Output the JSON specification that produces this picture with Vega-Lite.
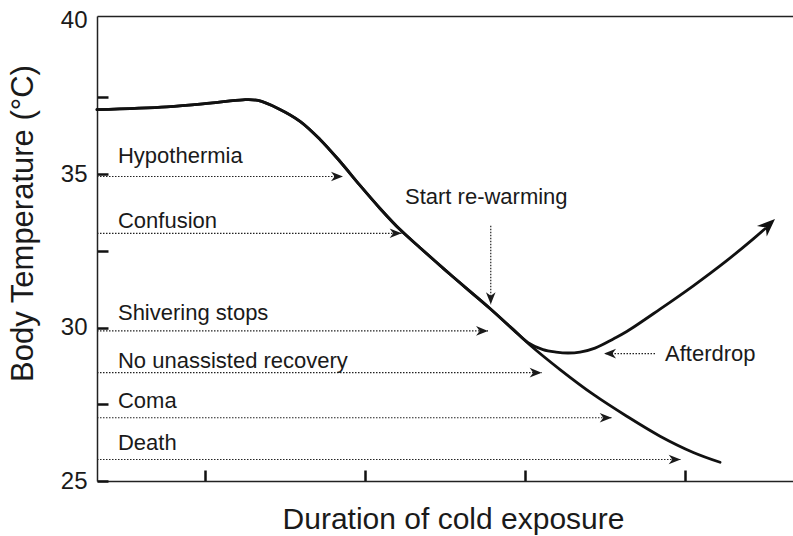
{
  "$schema": "https://vega.github.io/schema/vega-lite/v6.json",
  "width": 696,
  "height": 465,
  "autosize": {"type": "none"},
  "padding": {"left": 97, "top": 16, "right": 0, "bottom": 55},
  "config": {"view": {"stroke": null}, "font": "Liberation Sans"},
  "datasets": {
    "curve": [
      {"x": -0.675, "y": 37.10, "branch": "untreated"},
      {"x": -0.239, "y": 37.19, "branch": "untreated"},
      {"x": 0.031, "y": 37.31, "branch": "untreated"},
      {"x": 0.2375, "y": 37.42, "branch": "untreated"},
      {"x": 0.331, "y": 37.40, "branch": "untreated"},
      {"x": 0.456, "y": 37.14, "branch": "untreated"},
      {"x": 0.594, "y": 36.72, "branch": "untreated"},
      {"x": 0.719, "y": 36.13, "branch": "untreated"},
      {"x": 0.844, "y": 35.41, "branch": "untreated"},
      {"x": 0.969, "y": 34.63, "branch": "untreated"},
      {"x": 1.094, "y": 33.88, "branch": "untreated"},
      {"x": 1.219, "y": 33.19, "branch": "untreated"},
      {"x": 1.344, "y": 32.60, "branch": "untreated"},
      {"x": 1.5, "y": 31.88, "branch": "untreated"},
      {"x": 1.656, "y": 31.18, "branch": "untreated"},
      {"x": 1.781, "y": 30.62, "branch": "untreated"},
      {"x": 1.925, "y": 29.94, "branch": "untreated"},
      {"x": 2.031, "y": 29.43, "branch": "untreated"},
      {"x": 2.219, "y": 28.63, "branch": "untreated"},
      {"x": 2.427, "y": 27.82, "branch": "untreated"},
      {"x": 2.636, "y": 27.11, "branch": "untreated"},
      {"x": 2.844, "y": 26.46, "branch": "untreated"},
      {"x": 3.052, "y": 25.93, "branch": "untreated"},
      {"x": 3.219, "y": 25.61, "branch": "untreated"},
      {"x": -0.675, "y": 37.10, "branch": "rewarmed"},
      {"x": -0.239, "y": 37.19, "branch": "rewarmed"},
      {"x": 0.031, "y": 37.31, "branch": "rewarmed"},
      {"x": 0.2375, "y": 37.42, "branch": "rewarmed"},
      {"x": 0.331, "y": 37.40, "branch": "rewarmed"},
      {"x": 0.456, "y": 37.14, "branch": "rewarmed"},
      {"x": 0.594, "y": 36.72, "branch": "rewarmed"},
      {"x": 0.719, "y": 36.13, "branch": "rewarmed"},
      {"x": 0.844, "y": 35.41, "branch": "rewarmed"},
      {"x": 0.969, "y": 34.63, "branch": "rewarmed"},
      {"x": 1.094, "y": 33.88, "branch": "rewarmed"},
      {"x": 1.219, "y": 33.19, "branch": "rewarmed"},
      {"x": 1.344, "y": 32.60, "branch": "rewarmed"},
      {"x": 1.5, "y": 31.88, "branch": "rewarmed"},
      {"x": 1.656, "y": 31.18, "branch": "rewarmed"},
      {"x": 1.781, "y": 30.62, "branch": "rewarmed"},
      {"x": 1.925, "y": 29.94, "branch": "rewarmed"},
      {"x": 2.019, "y": 29.51, "branch": "rewarmed"},
      {"x": 2.1125, "y": 29.28, "branch": "rewarmed"},
      {"x": 2.194, "y": 29.20, "branch": "rewarmed"},
      {"x": 2.269, "y": 29.17, "branch": "rewarmed"},
      {"x": 2.344, "y": 29.20, "branch": "rewarmed"},
      {"x": 2.4375, "y": 29.33, "branch": "rewarmed"},
      {"x": 2.552, "y": 29.63, "branch": "rewarmed"},
      {"x": 2.636, "y": 29.87, "branch": "rewarmed"},
      {"x": 2.844, "y": 30.60, "branch": "rewarmed"},
      {"x": 3.052, "y": 31.36, "branch": "rewarmed"},
      {"x": 3.261, "y": 32.18, "branch": "rewarmed"},
      {"x": 3.427, "y": 32.89, "branch": "rewarmed"},
      {"x": 3.5, "y": 33.22, "branch": "rewarmed"}
    ],
    "arrows": [
      {"label": "Hypothermia", "x1": -0.675, "x2": 0.8625, "y1": 34.92, "y2": 34.92, "dir": "right"},
      {"label": "Confusion", "x1": -0.675, "x2": 1.229, "y1": 33.07, "y2": 33.07, "dir": "right"},
      {"label": "Shivering stops", "x1": -0.675, "x2": 1.769, "y1": 29.89, "y2": 29.89, "dir": "right"},
      {"label": "No unassisted recovery", "x1": -0.675, "x2": 2.104, "y1": 28.53, "y2": 28.53, "dir": "right"},
      {"label": "Coma", "x1": -0.675, "x2": 2.542, "y1": 27.06, "y2": 27.06, "dir": "right"},
      {"label": "Death", "x1": -0.675, "x2": 2.973, "y1": 25.70, "y2": 25.70, "dir": "right"},
      {"label": "Afterdrop", "x1": 2.8125, "x2": 2.494, "y1": 29.15, "y2": 29.15, "dir": "left"},
      {"label": "Start re-warming", "x1": 1.786, "x2": 1.786, "y1": 33.32, "y2": 30.76, "dir": "down"}
    ],
    "labels": [
      {"text": "Hypothermia", "x": -0.544, "y": 35.35},
      {"text": "Confusion", "x": -0.544, "y": 33.25},
      {"text": "Shivering stops", "x": -0.544, "y": 30.25},
      {"text": "No unassisted recovery", "x": -0.544, "y": 28.68},
      {"text": "Coma", "x": -0.544, "y": 27.37},
      {"text": "Death", "x": -0.544, "y": 26.00},
      {"text": "Start re-warming", "x": 1.25, "y": 34.04},
      {"text": "Afterdrop", "x": 2.875, "y": 28.91}
    ],
    "head": [
      {"x": 3.5625, "y": 33.54}
    ]
  },
  "layer": [
    {
      "data": {"name": "curve"},
      "mark": {"type": "line", "interpolate": "catmull-rom", "color": "#111111", "strokeWidth": 2.8, "strokeCap": "round", "strokeJoin": "round"},
      "encoding": {
        "x": {
          "field": "x", "type": "quantitative",
          "scale": {"domain": [-0.675, 3.675], "nice": false, "zero": false},
          "axis": {
            "orient": "bottom", "values": [0, 1, 2, 3], "labels": false,
            "tickSize": -11, "tickWidth": 2.5, "tickColor": "#111111",
            "domainColor": "#222222", "domainWidth": 1.5, "grid": false,
            "title": "Duration of cold exposure", "titleFont": "Liberation Sans",
            "titleFontSize": 30, "titleFontWeight": "normal", "titleColor": "#1a1a1a",
            "titleX": 356, "titleY": 47, "titleBaseline": "alphabetic", "titleAlign": "center"
          }
        },
        "y": {
          "field": "y", "type": "quantitative",
          "scale": {"domain": [25, 40.15], "nice": false, "zero": false},
          "axis": {
            "orient": "left", "values": [25, 27.5, 30, 32.5, 35, 37.5, 40],
            "labelExpr": "datum.value % 5 === 0 ? format(datum.value, 'd') : ''",
            "tickSize": -11, "tickWidth": 2.5, "tickColor": "#111111",
            "tickOpacity": {"condition": {"test": "datum.value === 40", "value": 0}, "value": 1},
            "labelFont": "Liberation Sans", "labelFontSize": 24, "labelColor": "#1a1a1a", "labelPadding": 21,
            "domainColor": "#222222", "domainWidth": 1.5, "grid": false,
            "title": "Body Temperature (°C)", "titleFont": "Liberation Sans",
            "titleFontSize": 31, "titleFontWeight": "normal", "titleColor": "#1a1a1a",
            "titleX": -65, "titleY": 207, "titleBaseline": "alphabetic", "titleAngle": -90, "titleAlign": "center"
          }
        },
        "detail": {"field": "branch", "type": "nominal"}
      }
    },
    {
      "data": {"name": "arrows"},
      "mark": {"type": "rule", "color": "#222222", "strokeWidth": 1.2, "strokeDash": [1.5, 1.5]},
      "encoding": {
        "x": {"field": "x1", "type": "quantitative", "axis": null},
        "x2": {"field": "x2"},
        "y": {"field": "y1", "type": "quantitative"},
        "y2": {"field": "y2"}
      }
    },
    {
      "data": {"name": "arrows"},
      "transform": [{"filter": "datum.dir === 'right'"}],
      "mark": {"type": "point", "filled": true, "shape": "M0,0 L0.8,2 L0,1.4 L-0.8,2 Z", "size": 144, "angle": 90, "color": "#1a1a1a", "opacity": 1, "strokeWidth": 0},
      "encoding": {
        "x": {"field": "x2", "type": "quantitative", "axis": null},
        "y": {"field": "y2", "type": "quantitative"}
      }
    },
    {
      "data": {"name": "arrows"},
      "transform": [{"filter": "datum.dir === 'down'"}],
      "mark": {"type": "point", "filled": true, "shape": "M0,0 L0.8,2 L0,1.4 L-0.8,2 Z", "size": 144, "angle": 180, "color": "#1a1a1a", "opacity": 1, "strokeWidth": 0},
      "encoding": {
        "x": {"field": "x2", "type": "quantitative", "axis": null},
        "y": {"field": "y2", "type": "quantitative"}
      }
    },
    {
      "data": {"name": "arrows"},
      "transform": [{"filter": "datum.dir === 'left'"}],
      "mark": {"type": "point", "filled": true, "shape": "M0,0 L0.8,2 L0,1.4 L-0.8,2 Z", "size": 144, "angle": 270, "color": "#1a1a1a", "opacity": 1, "strokeWidth": 0},
      "encoding": {
        "x": {"field": "x2", "type": "quantitative", "axis": null},
        "y": {"field": "y2", "type": "quantitative"}
      }
    },
    {
      "data": {"name": "head"},
      "mark": {"type": "point", "filled": true, "shape": "M0,0 L0.8,2 L0,1.4 L-0.8,2 Z", "size": 324, "angle": 47, "color": "#111111", "opacity": 1, "strokeWidth": 0},
      "encoding": {
        "x": {"field": "x", "type": "quantitative", "axis": null},
        "y": {"field": "y", "type": "quantitative"}
      }
    },
    {
      "data": {"name": "labels"},
      "mark": {"type": "text", "align": "left", "baseline": "alphabetic", "font": "Liberation Sans", "fontSize": 22, "color": "#1a1a1a"},
      "encoding": {
        "x": {
          "field": "x", "type": "quantitative",
          "axis": {"orient": "top", "ticks": false, "labels": false, "title": null, "domainColor": "#222222", "domainWidth": 1.5, "grid": false}
        },
        "y": {"field": "y", "type": "quantitative"},
        "text": {"field": "text"}
      }
    }
  ],
  "resolve": {"axis": {"x": "independent"}}
}
